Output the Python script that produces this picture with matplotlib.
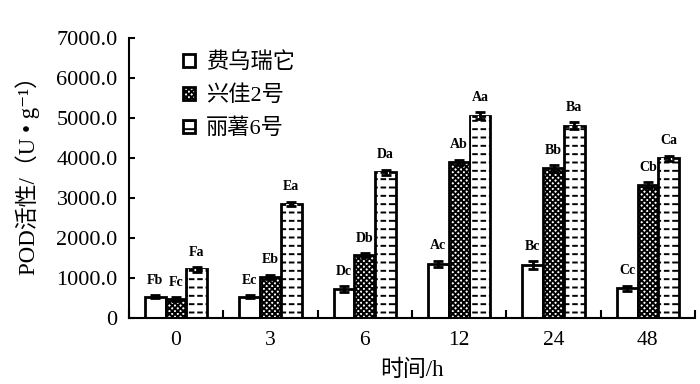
import matplotlib
matplotlib.use("Agg")
import matplotlib.pyplot as plt
import numpy as np

plt.rcParams['font.family'] = ['Liberation Serif', 'Noto Sans CJK SC', 'DejaVu Sans']
plt.rcParams['hatch.linewidth'] = 1.4

times = ["0", "3", "6", "12", "24", "48"]
varieties = ["费乌瑞它", "兴佳2号", "丽薯6号"]

fwrt = [540, 540, 730, 1360, 1325, 750]
xj2 = [475, 1040, 1580, 3900, 3750, 3330]
ls6 = [1225, 2860, 3650, 5070, 4820, 4000]

fwrt_err = [40, 40, 70, 80, 100, 70]
xj2_err = [50, 50, 50, 70, 80, 70]
ls6_err = [60, 60, 70, 90, 80, 70]

fwrt_lab = ["Fb", "Ec", "Dc", "Ac", "Bc", "Cc"]
xj2_lab = ["Fc", "Eb", "Db", "Ab", "Bb", "Cb"]
ls6_lab = ["Fa", "Ea", "Da", "Aa", "Ba", "Ca"]

fig = plt.figure(figsize=(7, 3.84), dpi=100)
ax = fig.add_axes([0.184, 0.171, 0.809, 0.729])

x = np.arange(len(times))
w = 0.22
series = [
    (fwrt, fwrt_err, fwrt_lab, ""),
    (xj2, xj2_err, xj2_lab, "xxxxxx"),
    (ls6, ls6_err, ls6_lab, "--"),
]
for i, (vals, errs, labs, hatch) in enumerate(series):
    xs = x + (i - 1) * w
    ax.bar(xs, vals, w, color="white", edgecolor="black", linewidth=2,
           hatch=hatch, label=varieties[i], zorder=2)
    if hatch == "--":
        # break the stripes into dashes
        cut = ax.bar(xs, vals, w * 0.85, color="none", edgecolor="white",
                     linewidth=0, hatch="||", zorder=2.5)
        for p in cut:
            try:
                p.set_hatch_linewidth(2.0)
            except AttributeError:
                pass
    ax.errorbar(xs, vals, yerr=errs, fmt="none", ecolor="black",
                elinewidth=2, capsize=3.5, capthick=2, zorder=3)
    for xx, v, e, t in zip(xs, vals, errs, labs):
        ax.annotate(t, (xx, v + e), xytext=(0, 6), textcoords="offset points",
                    ha="center", va="bottom", fontsize=10, fontweight="bold")

ax.set_ylim(0, 7000)
ax.set_xlim(-0.5, 5.5)
ax.set_yticks(np.arange(0, 7001, 1000))
ax.set_yticklabels(["0"] + ["%d.0" % v for v in range(1000, 7001, 1000)])
ax.set_xticks(x)
ax.set_xticklabels(times)
ax.set_xticks(np.arange(-0.5, 5.6, 1), minor=True)
ax.tick_params(axis="x", which="major", length=0, labelsize=15.5, pad=9)
ax.tick_params(axis="x", which="minor", direction="in", length=6, width=1.5)
ax.tick_params(axis="y", direction="in", length=4, width=1.5, labelsize=16, pad=8)
ax.spines["top"].set_visible(False)
ax.spines["right"].set_visible(False)
ax.spines["left"].set_linewidth(1.5)
ax.spines["bottom"].set_linewidth(1.5)

ax.set_xlabel("时间/h", fontsize=16.5, labelpad=7)
ax.set_ylabel("POD活性/（U • g⁻¹）", fontsize=16.5, labelpad=6)
ax.yaxis.set_label_coords(-0.157, 0.53)

ax.legend(loc="upper left", bbox_to_anchor=(0.095, 0.95), frameon=False,
          fontsize=16, handlelength=0.55, handleheight=0.55, labelspacing=0.55,
          handletextpad=0.5, borderpad=0, borderaxespad=0)

fig.savefig("out.png", dpi=100)
